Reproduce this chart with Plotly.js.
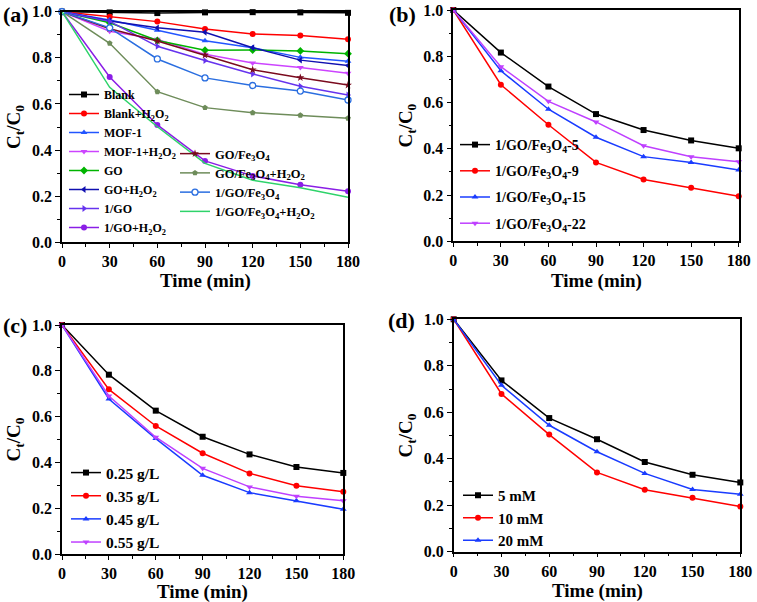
<!DOCTYPE html>
<html>
<head>
<meta charset="utf-8">
<script src="https://cdn.plot.ly/plotly-3.0.1.min.js"></script>
<style>
html,body{margin:0;padding:0;background:#fff;}
#chart{width:757px;height:602px;}
</style>
</head>
<body>
<div id="chart"></div>
<script>
// ---------- data ----------
const time = [0, 30, 60, 90, 120, 150, 180];

// panel (a)
const blank        = [1, 0.997, 0.994, 0.997, 0.998, 0.997, 0.995];
const blankH2O2    = [1, 0.978, 0.957, 0.925, 0.903, 0.897, 0.880];
const mof1         = [1, 0.964, 0.920, 0.874, 0.844, 0.802, 0.785];
const mof1H2O2     = [1, 0.915, 0.880, 0.815, 0.778, 0.758, 0.733];
const go           = [1, 0.952, 0.875, 0.833, 0.834, 0.830, 0.818];
const goH2O2       = [1, 0.960, 0.930, 0.911, 0.844, 0.790, 0.767];
const oneGO        = [1, 0.958, 0.850, 0.788, 0.730, 0.677, 0.639];
const oneGOH2O2    = [1, 0.717, 0.509, 0.353, 0.288, 0.250, 0.221];
const goFe         = [1, 0.926, 0.873, 0.812, 0.748, 0.714, 0.682];
const goFeH2O2     = [1, 0.863, 0.653, 0.584, 0.562, 0.551, 0.538];
const oneGOFe      = [1, 0.930, 0.795, 0.713, 0.680, 0.656, 0.617];
const oneGOFeH2O2  = [1, 0.672, 0.501, 0.342, 0.269, 0.237, 0.195];

// panel (b)
const fe5  = [1, 0.816, 0.669, 0.550, 0.481, 0.436, 0.402];
const fe9  = [1, 0.677, 0.504, 0.341, 0.267, 0.232, 0.195];
const fe15 = [1, 0.737, 0.571, 0.450, 0.366, 0.341, 0.308];
const fe22 = [1, 0.755, 0.605, 0.516, 0.413, 0.366, 0.344];

// panel (c)
const d025 = [1, 0.783, 0.626, 0.512, 0.435, 0.380, 0.354];
const d035 = [1, 0.719, 0.559, 0.440, 0.352, 0.298, 0.272];
const d045 = [1, 0.677, 0.504, 0.344, 0.268, 0.233, 0.195];
const d055 = [1, 0.690, 0.510, 0.374, 0.293, 0.252, 0.233];

// panel (d)
const h5  = [1, 0.737, 0.575, 0.484, 0.386, 0.331, 0.298];
const h10 = [1, 0.679, 0.504, 0.341, 0.267, 0.232, 0.194];
const h20 = [1, 0.716, 0.544, 0.430, 0.337, 0.268, 0.247];

// labels
const namesA1 = ['Blank', 'Blank+H<sub>2</sub>O<sub>2</sub>', 'MOF-1', 'MOF-1+H<sub>2</sub>O<sub>2</sub>',
                 'GO', 'GO+H<sub>2</sub>O<sub>2</sub>', '1/GO', '1/GO+H<sub>2</sub>O<sub>2</sub>'];
const namesA2 = ['GO/Fe<sub>3</sub>O<sub>4</sub>', 'GO/Fe<sub>3</sub>O<sub>4</sub>+H<sub>2</sub>O<sub>2</sub>',
                 '1/GO/Fe<sub>3</sub>O<sub>4</sub>', '1/GO/Fe<sub>3</sub>O<sub>4</sub>+H<sub>2</sub>O<sub>2</sub>'];
const namesB = ['1/GO/Fe<sub>3</sub>O<sub>4</sub>-5', '1/GO/Fe<sub>3</sub>O<sub>4</sub>-9',
                '1/GO/Fe<sub>3</sub>O<sub>4</sub>-15', '1/GO/Fe<sub>3</sub>O<sub>4</sub>-22'];
const namesC = ['0.25 g/L', '0.35 g/L', '0.45 g/L', '0.55 g/L'];
const namesD = ['5 mM', '10 mM', '20 mM'];
const xTitle = 'Time (min)';
const yTitle = 'C<sub>t</sub>/C<sub>0</sub>';

// ---------- styling ----------
const FONT = '"Liberation Serif", "Times New Roman", Times, serif';
const traces = [];
let gid = 0;
function add(y, name, color, symbol, xa, ya, leg, opts) {
  opts = opts || {};
  const t = {
    x: time, y: y, name: name, type: 'scatter',
    mode: symbol ? 'lines+markers' : 'lines',
    xaxis: xa, yaxis: ya, legend: leg, legendgroup: 'g' + (gid++),
    cliponaxis: false,
    line: {color: color, width: 1.5},
  };
  if (symbol) {
    t.marker = {symbol: symbol, size: opts.size || 6, color: opts.fill || color,
                line: {color: color, width: opts.fill ? 1.3 : 0}};
  }
  traces.push(t);
}

// panel (a)
const seriesA1 = [blank, blankH2O2, mof1, mof1H2O2, go, goH2O2, oneGO, oneGOH2O2];
const colorsA1 = ['#000000', '#ff0000', '#2255ff', '#cc44ff', '#00b400', '#1010b0', '#6633ee', '#8a1ee6'];
const symA1 = ['square', 'circle', 'triangle-up', 'triangle-down', 'diamond', 'triangle-left', 'triangle-right', 'circle'];
seriesA1.forEach((s, i) => add(s, namesA1[i], colorsA1[i], symA1[i], 'x', 'y', 'legend'));
const seriesA2 = [goFe, goFeH2O2, oneGOFe, oneGOFeH2O2];
const colorsA2 = ['#7a0a1e', '#6e8c5a', '#2a6ee0', '#2ed36a'];
const symA2 = ['star', 'pentagon', 'circle', null];
seriesA2.forEach((s, i) => add(s, namesA2[i], colorsA2[i], symA2[i], 'x', 'y', 'legend2',
  i === 2 ? {fill: '#ffffff'} : {}));

// panel (b)
const colorsB = ['#000000', '#ff0000', '#1a3cff', '#bf40ff'];
const symB = ['square', 'circle', 'triangle-up', 'triangle-down'];
[fe5, fe9, fe15, fe22].forEach((s, i) => add(s, namesB[i], colorsB[i], symB[i], 'x2', 'y2', 'legend3'));

// panel (c)
[d025, d035, d045, d055].forEach((s, i) => add(s, namesC[i], colorsB[i], symB[i], 'x3', 'y3', 'legend4'));

// panel (d)
[h5, h10, h20].forEach((s, i) => add(s, namesD[i], colorsB[i], symB[i], 'x4', 'y4', 'legend5'));

// ---------- axes ----------
const W = 757, H = 602;
function px2x(p) { return p / W; }
function px2y(p) { return 1 - p / H; }
const tickFont = {family: FONT, size: 16, color: '#000', weight: 'bold'};
const titleFont = {family: FONT, size: 19, color: '#000', weight: 'bold'};
function xax(l, r, anchor) {
  return {
    domain: [px2x(l), px2x(r)], anchor: anchor, range: [0, 180], tick0: 0, dtick: 30,
    ticks: 'outside', ticklen: 4, tickwidth: 1.3, tickcolor: '#000',
    minor: {dtick: 15, ticks: 'outside', ticklen: 3, tickwidth: 1.2, tickcolor: '#000'},
    showline: true, linecolor: '#000', linewidth: 1.5, mirror: true,
    showgrid: false, zeroline: false, tickfont: tickFont, automargin: false
  };
}
function yax(t, b, anchor) {
  return {
    domain: [px2y(b), px2y(t)], anchor: anchor, range: [0, 1], tick0: 0, dtick: 0.2, tickformat: '.1f',
    ticks: 'outside', ticklen: 5, tickwidth: 1.3, tickcolor: '#000',
    minor: {dtick: 0.1, ticks: 'outside', ticklen: 3, tickwidth: 1.2, tickcolor: '#000'},
    showline: true, linecolor: '#000', linewidth: 1.5, mirror: true,
    showgrid: false, zeroline: false, tickfont: tickFont, automargin: false,
    ticklabeloverflow: 'allow',
    title: {text: yTitle, font: titleFont, standoff: 6}
  };
}
function leg(xp, yp, size, gap) {
  return {
    x: px2x(xp), y: px2y(yp), xanchor: 'left', yanchor: 'top',
    bgcolor: 'rgba(0,0,0,0)', borderwidth: 0, traceorder: 'grouped', tracegroupgap: gap,
    font: {family: FONT, size: size, color: '#000', weight: 'bold'}
  };
}
function label(txt, xp, yp) {
  return {text: txt, xref: 'paper', yref: 'paper', x: px2x(xp), y: px2y(yp),
          xanchor: 'left', yanchor: 'middle', showarrow: false,
          font: {family: FONT, size: 22, color: '#000', weight: 'bold'}};
}
function xtitle(xref, yp) {
  return {text: xTitle, xref: xref + ' domain', yref: 'paper', x: 0.5, y: px2y(yp),
          xanchor: 'center', yanchor: 'middle', showarrow: false, borderpad: 0, font: titleFont};
}

const layout = {
  width: W, height: H,
  margin: {l: 0, r: 0, t: 0, b: 0},
  paper_bgcolor: '#fff', plot_bgcolor: '#fff',
  showlegend: true,
  xaxis: xax(62, 348, 'y'),   yaxis: yax(11.7, 242.3, 'x'),
  xaxis2: xax(453.3, 738.7, 'y2'), yaxis2: yax(10, 241.3, 'x2'),
  xaxis3: xax(62, 343.3, 'y3'), yaxis3: yax(325, 554, 'x3'),
  xaxis4: xax(453.7, 740.3, 'y4'), yaxis4: yax(319.3, 551.7, 'x4'),
  legend: leg(64, 80, 12, 0),
  legend2: leg(175, 139, 12.5, 0),
  legend3: leg(455, 129, 14, 5),
  legend4: leg(66, 456, 15.5, 0),
  legend5: leg(458, 479, 15, 0),
  annotations: [
    label('(a)', 1, 15), label('(b)', 387, 15),
    label('(c)', 1, 325), label('(d)', 386, 320),
    xtitle('x', 281), xtitle('x2', 281), xtitle('x3', 592), xtitle('x4', 591)
  ]
};

Plotly.newPlot('chart', traces, layout, {displayModeBar: false});
</script>
</body>
</html>
